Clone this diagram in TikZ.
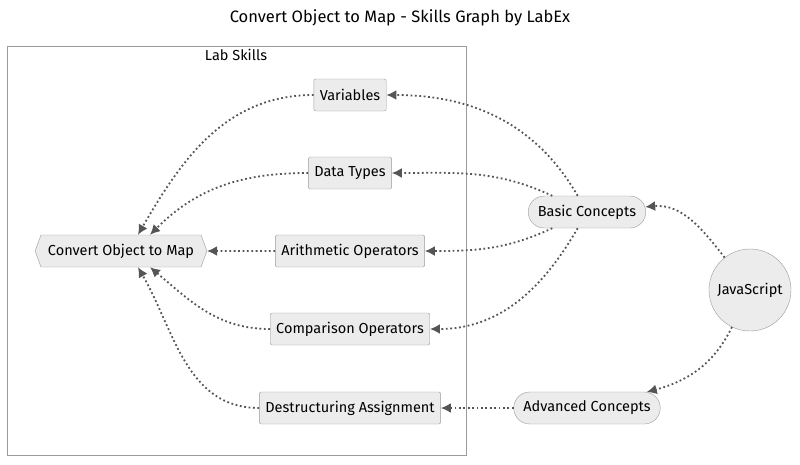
\documentclass[tikz,border=0pt]{standalone}
\usepackage{fontspec}
\setmainfont{Fira Sans}
\usetikzlibrary{arrows.meta,positioning,shapes.misc,shapes.symbols,calc}
\definecolor{nodefill}{HTML}{ECECEC}
\definecolor{nodeline}{HTML}{9A9A9A}
\definecolor{edgecol}{HTML}{555555}

\begin{document}
\begin{tikzpicture}[x=1pt,y=1pt,>=Latex,every node/.style={font=\fontsize{14.5}{17}\selectfont},
  skill/.style={draw=nodeline,fill=nodefill,rounded corners=2pt,minimum height=32pt,inner xsep=6pt},
  concept/.style={draw=nodeline,fill=nodefill,rounded rectangle,minimum height=32pt,inner xsep=8pt},
  flow/.style={draw=edgecol,line width=1.8pt,dash pattern=on 1.8pt off 2.6pt,-{Latex[length=10pt,width=10pt]}}]
\useasboundingbox (0,0) rectangle (800,-464);
\node[font=\fontsize{16.5}{19}\selectfont] (title) at (400,-18) {Convert Object to Map - Skills Graph by LabEx};
% cluster
\draw[draw=nodeline,line width=1pt] (7,-46) rectangle (466,-455);
\node (lab) at (236,-55) {Lab Skills};
\node[draw=nodeline,fill=nodefill,signal,signal to=west and east,signal pointer angle=140,
  minimum height=32pt,inner xsep=7pt] (conv) at (121,-251) {Convert Object to Map};
\foreach \n/\y/\t in {vars/95/Variables,types/173/Data Types,arith/251/Arithmetic Operators,
  comp/329/Comparison Operators,destr/408/Destructuring Assignment}{
  \node[skill] (\n) at (350,-\y) {\t};
}
\node[concept] (basic) at (587,-212) {Basic Concepts};
\node[concept] (adv) at (587,-408) {Advanced Concepts};
\node[draw=nodeline,fill=nodefill,circle,minimum size=82pt,inner sep=0pt] (js) at (750,-290) {JavaScript};
% edges
\draw[flow] (js) to[out=128,in=5] (basic);
\draw[flow] (js) to[out=244,in=15] (adv);
\draw[flow] (basic) to[out=120,in=0] (vars);
\draw[flow] (basic) to[out=155,in=0] (types);
\draw[flow] (basic) to[out=205,in=0] (arith);
\draw[flow] (basic) to[out=240,in=0] (comp);
\draw[flow] (adv) -- (destr);
\draw[flow] (vars) to[out=180,in=60] ($(conv.north)+(17,0)$);
\draw[flow] (types) to[out=180,in=45] ($(conv.north)+(29,0)$);
\draw[flow] (arith) -- (conv);
\draw[flow] (comp) to[out=180,in=-40] ($(conv.south)+(29,0)$);
\draw[flow] (destr) to[out=180,in=-60] ($(conv.south)+(17,0)$);
\end{tikzpicture}
\end{document}
